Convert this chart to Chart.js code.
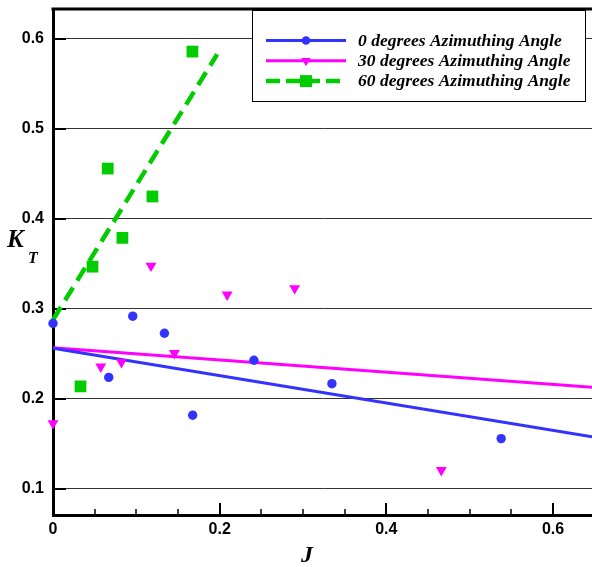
<!DOCTYPE html>
<html><head><meta charset="utf-8">
<script src="https://cdn.jsdelivr.net/npm/chart.js@4.4.0/dist/chart.umd.min.js"></script>
<style>html,body{margin:0;padding:0;background:#fff}#wrap{width:592px;height:567px;position:relative}</style>
</head><body><div id="wrap"><canvas id="c"></canvas></div>
<script>
const seriesNames = ['0 degrees Azimuthing Angle', '30 degrees Azimuthing Angle', '60 degrees Azimuthing Angle'];
const J0  = [0, 0.0669, 0.0957, 0.1337, 0.1676, 0.2411, 0.3347, 0.5378];
const KT0 = [0.284, 0.224, 0.292, 0.273, 0.182, 0.243, 0.217, 0.156];
const J30  = [0, 0.0573, 0.0821, 0.1176, 0.1457, 0.209, 0.290, 0.466];
const KT30 = [0.173, 0.236, 0.241, 0.348, 0.251, 0.316, 0.323, 0.121];
const J60  = [0.033, 0.0474, 0.0657, 0.0833, 0.1193, 0.1673];
const KT60 = [0.214, 0.347, 0.456, 0.379, 0.425, 0.586];
const fitJ0 = [0, 0.6468], fitKT0 = [0.2563, 0.158];
const fitJ30 = [0, 0.6468], fitKT30 = [0.257, 0.213];
const fitJ60 = [0, 0.197], fitKT60 = [0.288, 0.583];
const yTicks = [0.1, 0.2, 0.3, 0.4, 0.5, 0.6];
const yTickLabels = ['0.1', '0.2', '0.3', '0.4', '0.5', '0.6'];
const xTicks = [0, 0.2, 0.4, 0.6];
const xTickLabels = ['0', '0.2', '0.4', '0.6'];
const xMinorTicks = [0.05, 0.1, 0.15, 0.25, 0.3, 0.35, 0.45, 0.5, 0.55];
const xTitle = 'J', yTitle = 'K', yTitleSub = 'T';

const BLUE = '#3333ff', MAG = '#ff00ff', GREEN = '#00cc00';
const pts = (xs, ys) => xs.map((x, i) => ({x: x, y: ys[i]}));
const lbl = (vals, labels) => (v) => { const i = vals.findIndex(t => Math.abs(t - v) < 1e-9); return i >= 0 ? labels[i] : ''; };
const tickFont = {family: '"Liberation Sans", Arial, sans-serif', size: 16, weight: 'bold'};
const noPad = s => { s.paddingTop = 0; s.paddingBottom = 0; s.paddingLeft = 0; s.paddingRight = 0; };

const legendStyles = [
  {color: BLUE, width: 3, dash: [], marker: 'circle'},
  {color: MAG, width: 3, dash: [], marker: 'tri'},
  {color: GREEN, width: 4.5, dash: [14, 6], marker: 'square'}
];

function marker(ctx, kind, x, y, color, s) {
  ctx.save(); ctx.fillStyle = color; ctx.setLineDash([]); ctx.beginPath();
  if (kind === 'circle') { ctx.arc(x, y, s, 0, Math.PI * 2); }
  else if (kind === 'tri') { ctx.moveTo(x - s * 0.866, y - s / 2); ctx.lineTo(x + s * 0.866, y - s / 2); ctx.lineTo(x, y + s); ctx.closePath(); }
  else { ctx.rect(x - s, y - s, 2 * s, 2 * s); }
  ctx.fill(); ctx.restore();
}

const frame = {
  id: 'frame',
  beforeDatasetsDraw(chart) {
    const {ctx, chartArea: a, scales: {x, y}} = chart;
    ctx.save(); ctx.strokeStyle = '#000';
    ctx.lineWidth = 2;
    yTicks.forEach(v => { const py = Math.round(y.getPixelForValue(v)); ctx.beginPath(); ctx.moveTo(a.left, py); ctx.lineTo(a.left + 13, py); ctx.stroke(); });
    xTicks.forEach(v => { const px = Math.round(x.getPixelForValue(v)); ctx.beginPath(); ctx.moveTo(px, a.bottom); ctx.lineTo(px, a.bottom - 12); ctx.stroke(); });
    ctx.lineWidth = 1.5;
    xMinorTicks.forEach(v => { const px = Math.round(x.getPixelForValue(v)); ctx.beginPath(); ctx.moveTo(px, a.bottom); ctx.lineTo(px, a.bottom - 6); ctx.stroke(); });
    ctx.lineWidth = 3;
    ctx.beginPath(); ctx.moveTo(a.left - 1.5, a.top); ctx.lineTo(a.right, a.top); ctx.stroke();
    ctx.restore();
  },
  afterDraw(chart) {
    const {ctx} = chart;
    ctx.save();
    ctx.fillStyle = '#fff'; ctx.fillRect(252, 10, 334, 92);
    ctx.strokeStyle = '#000'; ctx.lineWidth = 1; ctx.strokeRect(252.5, 10.5, 333, 91);
    seriesNames.forEach((name, i) => {
      const st = legendStyles[i]; const ry = 40.5 + i * 20.3;
      ctx.strokeStyle = st.color; ctx.lineWidth = st.width; ctx.setLineDash(st.dash);
      ctx.beginPath(); ctx.moveTo(266, ry); ctx.lineTo(346, ry); ctx.stroke();
      ctx.setLineDash([]);
      marker(ctx, st.marker, 306, ry, st.color, st.marker === 'circle' ? 4.3 : (st.marker === 'tri' ? 5.5 : 6));
      ctx.fillStyle = '#000'; ctx.font = 'bold italic 17.5px "Liberation Serif", "Times New Roman", serif';
      ctx.textAlign = 'left'; ctx.textBaseline = 'alphabetic';
      ctx.fillText(name, 358, ry + 5);
    });
    ctx.fillStyle = '#000';
    ctx.font = 'bold italic 24px "Liberation Serif", serif'; ctx.textAlign = 'center';
    ctx.fillText(xTitle, 307, 562);
    ctx.textAlign = 'left';
    ctx.font = 'bold italic 25px "Liberation Serif", serif';
    ctx.fillText(yTitle, 7, 247);
    ctx.font = 'bold italic 16px "Liberation Serif", serif';
    ctx.fillText(yTitleSub, 28, 263);
    ctx.restore();
  }
};

new Chart(document.getElementById('c'), {
  type: 'scatter',
  data: {
    datasets: [
      {label: seriesNames[0], data: pts(J0, KT0), pointStyle: 'circle', pointRadius: 4.7, backgroundColor: BLUE, borderWidth: 0, clip: false},
      {label: seriesNames[1], data: pts(J30, KT30), pointStyle: 'triangle', rotation: 180, pointRadius: 6.3, backgroundColor: MAG, borderWidth: 0, clip: false},
      {label: seriesNames[2], data: pts(J60, KT60), pointStyle: 'rect', pointRadius: 8.3, backgroundColor: GREEN, borderWidth: 0, clip: false},
      {data: pts(fitJ0, fitKT0), showLine: true, pointRadius: 0, borderColor: BLUE, borderWidth: 3, clip: false},
      {data: pts(fitJ30, fitKT30), showLine: true, pointRadius: 0, borderColor: MAG, borderWidth: 3, clip: false},
      {data: pts(fitJ60, fitKT60), showLine: true, pointRadius: 0, borderColor: GREEN, borderWidth: 4.5, borderDash: [15, 8], clip: false}
    ]
  },
  options: {
    responsive: true, maintainAspectRatio: false, animation: false, events: [],
    layout: {autoPadding: false, padding: {top: 9, left: 0, right: 0, bottom: 0}},
    plugins: {legend: {display: false}, tooltip: {enabled: false}},
    scales: {
      x: {type: 'linear', min: 0, max: 0.6468,
        afterBuildTicks: s => { s.ticks = xTicks.map(v => ({value: v})); },
        afterFit: s => { s.height = 52; noPad(s); },
        ticks: {font: tickFont, color: '#000', padding: 5, maxRotation: 0, autoSkip: false, callback: lbl(xTicks, xTickLabels)},
        grid: {display: false, drawTicks: false},
        border: {display: true, color: '#000', width: 3}},
      y: {type: 'linear', min: 0.0711, max: 0.6333,
        afterBuildTicks: s => { s.ticks = yTicks.map(v => ({value: v})); },
        afterFit: s => { s.width = 53; noPad(s); },
        ticks: {font: tickFont, color: '#000', padding: 9, callback: lbl(yTicks, yTickLabels)},
        grid: {display: true, color: '#333', lineWidth: 1, drawTicks: false},
        border: {display: true, color: '#000', width: 3}}
    }
  },
  plugins: [frame]
});
</script></body></html>
